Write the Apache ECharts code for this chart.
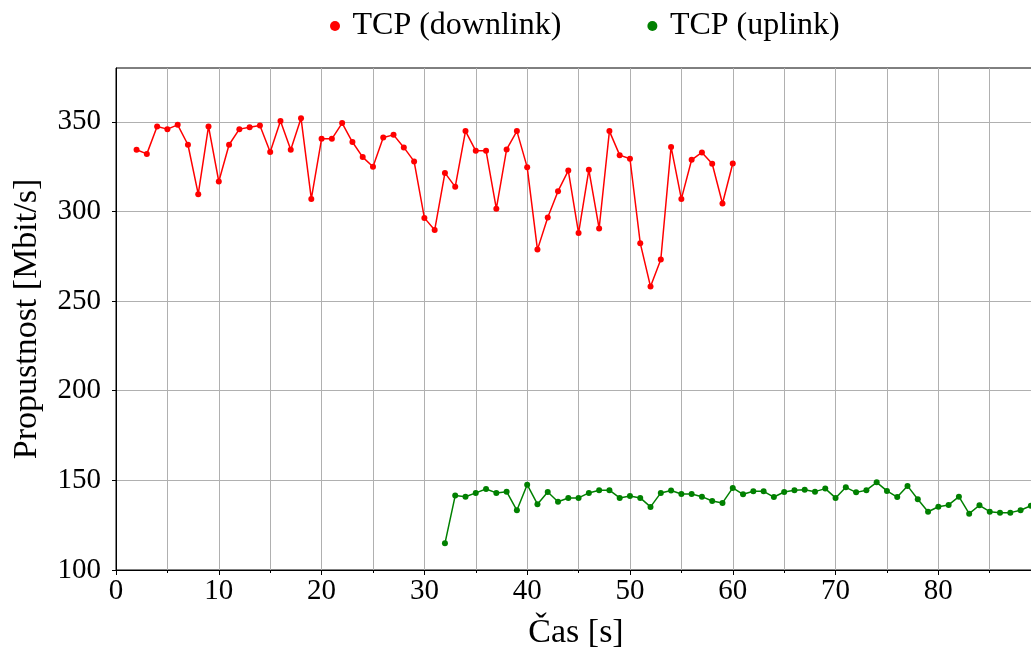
<!DOCTYPE html>
<html>
<head>
<meta charset="utf-8">
<style>
  html, body { margin: 0; padding: 0; background: #fff; }
  #chart { width: 1031px; height: 660px; }
</style>
<script src="https://cdn.jsdelivr.net/npm/echarts@6/dist/echarts.min.js"></script>
</head>
<body>
<div id="chart"></div>
<script>
// Time axis (seconds)
const timeDownlink = [2,3,4,5,6,7,8,9,10,11,12,13,14,15,16,17,18,19,20,21,22,23,24,25,26,27,28,29,30,31,32,33,34,35,36,37,38,39,40,41,42,43,44,45,46,47,48,49,50,51,52,53,54,55,56,57,58,59,60];
const tcpDownlink = [334.4,332.1,347.4,345.9,348.3,337.2,309.6,347.4,316.7,337.2,345.9,347.0,347.9,333.1,350.4,334.4,352.0,307.0,340.5,340.5,349.3,338.7,330.3,324.9,341.2,342.7,335.7,327.9,296.4,289.6,321.5,313.7,344.8,333.8,333.8,301.5,334.6,344.8,324.7,278.7,296.6,311.3,322.8,287.9,323.2,290.5,344.8,331.4,329.4,282.3,258.1,273.2,336.0,307.0,328.8,332.9,326.6,304.4,326.7];

const timeUplink = [32,33,34,35,36,37,38,39,40,41,42,43,44,45,46,47,48,49,50,51,52,53,54,55,56,57,58,59,60,61,62,63,64,65,66,67,68,69,70,71,72,73,74,75,76,77,78,79,80,81,82,83,84,85,86,87,88,89];
const tcpUplink = [114.9,141.5,140.9,143.0,145.2,143.0,143.7,133.3,147.6,136.7,143.5,138.1,140.2,140.2,143.0,144.5,144.5,140.2,141.3,140.2,135.2,143.0,144.3,142.4,142.4,140.9,138.5,137.4,145.8,142.2,143.9,143.9,140.7,143.5,144.5,144.8,143.7,145.4,140.2,146.1,143.3,144.5,148.9,144.1,140.7,146.9,139.5,132.5,135.3,136.3,140.9,131.4,136.1,132.5,132.0,132.0,133.3,135.9];

const yTicks = [100, 150, 200, 250, 300, 350];
const seriesNames = ['TCP (downlink)', 'TCP (uplink)'];
const xTitle = 'Čas [s]';
const yTitle = 'Propustnost [Mbit/s]';

const FONT = '"Liberation Serif", serif';
const pairs = (xs, ys) => xs.map((x, i) => [x, ys[i]]);

const chart = echarts.init(document.getElementById('chart'), null, { renderer: 'canvas' });
chart.setOption({
  animation: false,
  backgroundColor: '#ffffff',
  textStyle: { fontFamily: FONT },
  legend: {
    top: 5,
    left: 325,
    data: seriesNames,
    icon: 'circle',
    itemWidth: 25,
    itemHeight: 10,
    itemGap: 86,
    textStyle: { fontFamily: FONT, fontSize: 32, color: '#000' }
  },
  grid: {
    left: 116,
    right: -5,
    top: 68,
    bottom: 90,
    show: true,
    borderColor: '#000',
    borderWidth: 1,
    containLabel: false,
    outerBoundsMode: 'none'
  },
  xAxis: {
    type: 'value',
    min: 0,
    max: 89.5,
    interval: 10,
    name: xTitle,
    nameLocation: 'middle',
    nameGap: 46,
    nameTextStyle: { fontFamily: FONT, fontSize: 34, color: '#000' },
    axisLine: { show: true, onZero: false, lineStyle: { color: '#000', width: 1 } },
    axisTick: { show: true, length: 5, lineStyle: { color: '#000' } },
    minorTick: { show: true, splitNumber: 2, length: 3, lineStyle: { color: '#000' } },
    splitLine: { show: true, lineStyle: { color: '#b0b0b0', width: 1 } },
    minorSplitLine: { show: true, lineStyle: { color: '#b0b0b0', width: 1 } },
    axisLabel: { fontFamily: FONT, fontSize: 29, color: '#000', margin: 7,
      formatter: v => (v > 85 ? '' : String(v)) }
  },
  yAxis: {
    type: 'value',
    min: 100,
    max: 380,
    interval: 50,
    name: yTitle,
    nameLocation: 'middle',
    nameGap: 72,
    nameRotate: 90,
    nameTextStyle: { fontFamily: FONT, fontSize: 34, color: '#000' },
    axisLine: { show: true, lineStyle: { color: '#000', width: 1 } },
    axisTick: { show: true, length: 4, customValues: yTicks, lineStyle: { color: '#000' } },
    splitLine: { show: true, lineStyle: { color: '#b0b0b0', width: 1 } },
    axisLabel: { fontFamily: FONT, fontSize: 29, color: '#000', margin: 15,
      customValues: yTicks }
  },
  series: [
    {
      name: seriesNames[0],
      type: 'line',
      data: pairs(timeDownlink, tcpDownlink),
      color: '#ff0000',
      symbol: 'circle',
      symbolSize: 6,
      lineStyle: { width: 1.5, color: '#ff0000' },
      itemStyle: { color: '#ff0000' }
    },
    {
      name: seriesNames[1],
      type: 'line',
      data: pairs(timeUplink, tcpUplink),
      color: '#008000',
      symbol: 'circle',
      symbolSize: 6,
      lineStyle: { width: 1.5, color: '#008000' },
      itemStyle: { color: '#008000' }
    }
  ]
});
</script>
</body>
</html>
